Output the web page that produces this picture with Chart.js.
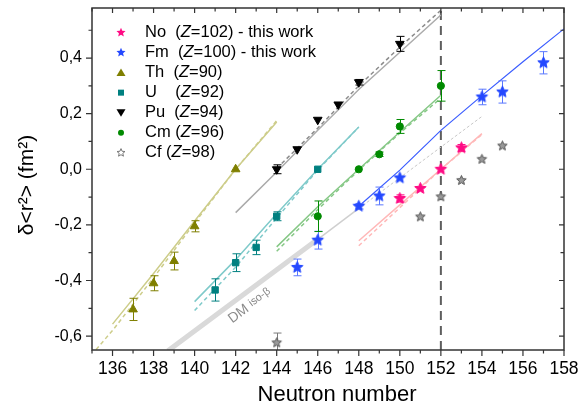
<!DOCTYPE html>
<html><head><meta charset="utf-8">
<script src="https://cdn.jsdelivr.net/npm/chart.js@4/dist/chart.umd.min.js"></script>
<style>html,body{margin:0;padding:0;background:#fff}#wrap{width:580px;height:406px;position:relative}</style>
</head><body><div id="wrap"><canvas id="c" width="580" height="406"></canvas></div>
<script>
// ---------- data ----------
const xTicks = [136,138,140,142,144,146,148,150,152,154,156,158];
const yTicks = [-0.6,-0.4,-0.2,0.0,0.2,0.4];
const xTitle = 'Neutron number';
const yTitle = 'δ<r²> (fm²)';

// measured isotope shifts
const noN = [150,151,152,153];
const noV = [-0.105,-0.069,0.0,0.077];
const noE = [0.013,0,0,0.012];
const fmN = [145,146,148,149,150,154,155,157];
const fmV = [-0.353,-0.255,-0.133,-0.096,-0.031,0.260,0.278,0.383];
const fmE = [0.030,0.032,0.010,0.032,0,0.028,0.040,0.040];
const thN = [137,138,139,140,142];
const thV = [-0.504,-0.410,-0.330,-0.205,0.0];
const thE = [0.040,0.027,0.032,0.020,0];
const uN = [141,142,143,144,146];
const uV = [-0.434,-0.336,-0.281,-0.169,0.0];
const uE = [0.040,0.032,0.026,0.016,0];
const puN = [144,145,146,147,148,150];
const puV = [0.0,0.072,0.178,0.233,0.313,0.451];
const puE = [0.016,0,0,0,0.010,0.027];
const cmN = [146,148,149,150,152];
const cmV = [-0.169,0.0,0.054,0.154,0.300];
const cmE = [0.055,0,0.008,0.025,0.055];
const cfN = [144,151,152,153,154,155];
const cfV = [-0.624,-0.171,-0.099,-0.040,0.036,0.084];
const cfE = [0.035,0,0,0,0,0];

// model curves
const thSolN = [136,138,140,142,144];          const thSolV = [-0.557,-0.375,-0.186,0.0,0.170];
const thDashN = [135.2,136,138,140,142,144];   const thDashV = [-0.648,-0.580,-0.390,-0.193,0.0,0.175];
const uSolN = [140,142,144,146,148];           const uSolV = [-0.476,-0.325,-0.160,0.0,0.152];
const uDashN = [140,142,144,146,148];          const uDashV = [-0.508,-0.352,-0.175,-0.003,0.152];
const puSolN = [142,144,146,148,150,152];      const puSolV = [-0.156,-0.010,0.140,0.287,0.421,0.555];
const puDashN = [144,146,148,150,152];         const puDashV = [0.003,0.148,0.300,0.439,0.572];
const cmSolN = [144,146,148,150,152];          const cmSolV = [-0.279,-0.135,0.0,0.134,0.266];
const cmDashN = [144,146,148,150,152];         const cmDashV = [-0.295,-0.145,-0.003,0.130,0.256];
const fmLineN = [148,150,152,154,156,158];     const fmLineV = [-0.133,-0.003,0.140,0.265,0.387,0.505];
const noSolN = [148,150,152,154];              const noSolV = [-0.257,-0.128,0.0,0.128];
const noDashN = [148,150,152,154];             const noDashV = [-0.275,-0.138,0.0,0.125];
const dmThickN = [138.7,146.0];                const dmThickV = [-0.653,-0.252];
const dmThinN = [146.0,148.0];                 const dmThinV = [-0.252,-0.141];
const dmDotN = [148.0,154.0];                  const dmDotV = [-0.141,0.190];
const n152N = [152,152];                       const n152V = [-0.65,0.58];

// ---------- helpers ----------
const FONT = "'Liberation Sans', Arial, sans-serif";
function starPath(ctx, x, y, R){
  const r = R*0.45;
  ctx.beginPath();
  for(let i=0;i<10;i++){
    const a = -Math.PI/2 + i*Math.PI/5;
    const rr = (i%2===0)?R:r;
    const px = x + rr*Math.cos(a), py = y + rr*Math.sin(a);
    if(i===0) ctx.moveTo(px,py); else ctx.lineTo(px,py);
  }
  ctx.closePath();
}
function starImage(R, fill, stroke){
  const c = document.createElement('canvas');
  const s = Math.ceil(2*R+3); c.width = s; c.height = s;
  const ctx = c.getContext('2d');
  starPath(ctx, s/2, s/2, R);
  ctx.fillStyle = fill; ctx.fill();
  ctx.lineWidth = 1; ctx.strokeStyle = stroke; ctx.stroke();
  return c;
}
const xy = (N,V)=>N.map((n,i)=>({x:n,y:V[i]}));
function line(N,V,color,width,dash){
  return {data:xy(N,V), showLine:true, borderColor:color, borderWidth:width, borderDash:dash||[],
          pointRadius:0, pointHoverRadius:0, fill:false, order:3};
}
function pts(label,N,V,E,style,color,radius,rotation,errColor){
  return {label, data:xy(N,V), showLine:false, pointStyle:style, pointRadius:radius, pointHoverRadius:radius,
          pointRotation:rotation||0, backgroundColor:color, borderColor:color, borderWidth:1,
          err:E, errColor:errColor||color, order:1};
}

const colNo='#ff0a84', colFm='#2448ff', colTh='#7f7f00', colU='#008080', colPu='#000000', colCm='#008a00', colCf='#6e6e6e';
const starNo = starImage(6, colNo, colNo);
const starFm = starImage(6, colFm, colFm);
const starCf = starImage(5, '#9a9a9a', '#555555');

const datasets = [
  line(dmThickN, dmThickV, '#d9d9d9', 5),
  line(dmThinN, dmThinV, '#cfcfcf', 1.5),
  line(dmDotN, dmDotV, '#c8c8c8', 1, [3,2]),
  line(thDashN, thDashV, '#cdcd8a', 1.5, [4,3]),
  line(thSolN, thSolV, '#cdcd8a', 1.5),
  line(uDashN, uDashV, '#7fcaca', 1.5, [4,3]),
  line(uSolN, uSolV, '#7fcaca', 1.5),
  line(puDashN, puDashV, '#8c8c8c', 1.5, [4,3]),
  line(puSolN, puSolV, '#ababab', 1.5),
  line(cmDashN, cmDashV, '#86c886', 1.5, [4,3]),
  line(cmSolN, cmSolV, '#86c886', 1.5),
  line(noDashN, noDashV, '#ffb8b8', 1.5, [4,3]),
  line(noSolN, noSolV, '#ffb8b8', 1.5),
  line(fmLineN, fmLineV, '#3a5cff', 1.2),
  line(n152N, n152V, '#5e5e5e', 2, [9,6]),
  pts('Th (Z=90)', thN, thV, thE, 'triangle', colTh, 5),
  pts('U (Z=92)', uN, uV, uE, 'rect', colU, 4.5),
  pts('Pu (Z=94)', puN, puV, puE, 'triangle', colPu, 5, 180),
  pts('Cm (Z=96)', cmN, cmV, cmE, 'circle', colCm, 3.6),
  pts('Cf (Z=98)', cfN, cfV, cfE, starCf, colCf, 5, 0, '#7a7a7a'),
  pts('Fm (Z=100) - this work', fmN, fmV, fmE, starFm, colFm, 6, 0, '#5a78ff'),
  pts('No (Z=102) - this work', noN, noV, noE, starNo, colNo, 6)
];

const custom = {
  id:'custom',
  beforeDatasetDraw(chart, args){
    const ds = chart.data.datasets[args.index];
    if(!ds.err) return;
    const {ctx, chartArea:a, scales:{x,y}} = chart;
    ctx.save();
    ctx.beginPath(); ctx.rect(a.left, a.top, a.right-a.left, a.bottom-a.top); ctx.clip();
    ctx.strokeStyle = ds.errColor; ctx.lineWidth = 1;
    ds.data.forEach((p,i)=>{
      const e = ds.err[i]; if(!e) return;
      const px = Math.round(x.getPixelForValue(p.x))+0.5;
      const y1 = y.getPixelForValue(p.y+e), y2 = y.getPixelForValue(p.y-e);
      ctx.beginPath();
      ctx.moveTo(px,y1); ctx.lineTo(px,y2);
      ctx.moveTo(px-4,y1); ctx.lineTo(px+4,y1);
      ctx.moveTo(px-4,y2); ctx.lineTo(px+4,y2);
      ctx.stroke();
    });
    ctx.restore();
  },
  afterDraw(chart){
    const {ctx, chartArea:a, scales:{x,y}} = chart;
    ctx.save();
    // frame
    ctx.strokeStyle = '#333'; ctx.lineWidth = 1.5;
    ctx.strokeRect(a.left, a.top, a.right-a.left, a.bottom-a.top);
    ctx.lineWidth = 1.2;
    ctx.beginPath();
    for(let n=135;n<=158;n++){
      const px = x.getPixelForValue(n);
      const major = (n%2===0);
      ctx.moveTo(px, a.bottom); ctx.lineTo(px, a.bottom + (major?6:3.5));
      ctx.moveTo(px, a.top); ctx.lineTo(px, a.top + (major?5:3.5));
    }
    for(let k=-6;k<=5;k++){
      const py = y.getPixelForValue(k/10);
      const major = (k%2===0);
      ctx.moveTo(a.left, py); ctx.lineTo(a.left - (major?6:3.5), py);
      ctx.moveTo(a.right, py); ctx.lineTo(a.right - (major?5:3.5), py);
    }
    ctx.stroke();
    ctx.restore();

    // axis titles
    ctx.save();
    ctx.fillStyle = '#000'; ctx.textAlign = 'center'; ctx.textBaseline = 'middle';
    ctx.font = "22px " + FONT;
    ctx.fillText(xTitle, 337, 395);
    ctx.translate(27, 185); ctx.rotate(-Math.PI/2);
    ctx.font = "21px " + FONT;
    ctx.fillText(yTitle, 0, 0);
    ctx.restore();

    // DM iso-beta label
    ctx.save();
    const lx = x.getPixelForValue(142.7), ly = y.getPixelForValue(-0.49);
    ctx.translate(lx, ly); ctx.rotate(-36.7*Math.PI/180);
    ctx.fillStyle = '#8a8a8a'; ctx.textBaseline = 'middle';
    ctx.font = "14px " + FONT;
    const w1 = ctx.measureText('DM ').width;
    const w2 = ctx.measureText('iso-β').width;
    ctx.fillText('DM', -(w1+w2*0.8)/2, 0);
    ctx.font = "11px " + FONT;
    ctx.fillText('iso-β', -(w1+w2*0.8)/2 + w1, -1);
    ctx.restore();

    // legend
    ctx.save();
    const rows = [
      {m:'starNo', name:'No  ', z:'102', tail:') - this work'},
      {m:'starFm', name:'Fm  ', z:'100', tail:') - this work'},
      {m:'tri', name:'Th  ', z:'90', tail:')'},
      {m:'sq', name:'U    ', z:'92', tail:')'},
      {m:'dtri', name:'Pu  ', z:'94', tail:')'},
      {m:'circ', name:'Cm ', z:'96', tail:')'},
      {m:'starCf', name:'Cf ', z:'98', tail:')'}
    ];
    ctx.textBaseline = 'middle';
    rows.forEach((r,i)=>{
      const cy = 32.5 + i*20.05, mx = 121;
      if(r.m==='starNo'){ starPath(ctx,mx,cy,4.8); ctx.fillStyle=colNo; ctx.fill(); }
      else if(r.m==='starFm'){ starPath(ctx,mx,cy,4.8); ctx.fillStyle=colFm; ctx.fill(); }
      else if(r.m==='starCf'){ starPath(ctx,mx,cy,4.2); ctx.strokeStyle='#777'; ctx.lineWidth=1; ctx.stroke(); }
      else if(r.m==='tri'){ ctx.beginPath(); ctx.moveTo(mx,cy-4); ctx.lineTo(mx+4.5,cy+3.5); ctx.lineTo(mx-4.5,cy+3.5); ctx.closePath(); ctx.fillStyle=colTh; ctx.fill(); }
      else if(r.m==='dtri'){ ctx.beginPath(); ctx.moveTo(mx,cy+4); ctx.lineTo(mx+4.5,cy-3.5); ctx.lineTo(mx-4.5,cy-3.5); ctx.closePath(); ctx.fillStyle=colPu; ctx.fill(); }
      else if(r.m==='sq'){ ctx.fillStyle=colU; ctx.fillRect(mx-3,cy-3,6,6); }
      else if(r.m==='circ'){ ctx.beginPath(); ctx.arc(mx,cy,3,0,2*Math.PI); ctx.fillStyle=colCm; ctx.fill(); }
      let tx = 145;
      ctx.fillStyle = '#000';
      ctx.font = "16.5px " + FONT;
      const p1 = r.name + '(';
      ctx.fillText(p1, tx, cy); tx += ctx.measureText(p1).width;
      ctx.font = "italic 16.5px " + FONT;
      ctx.fillText('Z', tx, cy); tx += ctx.measureText('Z').width;
      ctx.font = "16.5px " + FONT;
      ctx.fillText('=' + r.z + r.tail, tx, cy);
    });
    ctx.restore();
  }
};

new Chart(document.getElementById('c'), {
  type:'scatter',
  data:{datasets},
  options:{
    responsive:false, animation:false, devicePixelRatio:1,
    layout:{padding:{top:8, right:16, left:0, bottom:0}},
    plugins:{legend:{display:false}, tooltip:{enabled:false}},
    scales:{
      x:{type:'linear', min:135, max:158, position:'bottom',
         grid:{display:false, drawTicks:false}, border:{display:false},
         afterBuildTicks:(s)=>{ s.ticks = xTicks.map(v=>({value:v})); },
         ticks:{color:'#000', padding:9, autoSkip:false, maxRotation:0, font:{family:FONT, size:17.5},
                callback:(v)=>String(v)},
         title:{display:false, text:xTitle},
         afterFit:(s)=>{ s.height = 56; s.paddingLeft = 0; s.paddingRight = 0; }},
      y:{type:'linear', min:-0.65, max:0.58, position:'left',
         grid:{display:false, drawTicks:false}, border:{display:false},
         afterBuildTicks:(s)=>{ s.ticks = yTicks.map(v=>({value:v})); },
         ticks:{color:'#000', padding:10, autoSkip:false, font:{family:FONT, size:16},
                callback:(v)=>v.toFixed(1).replace('.',',')},
         title:{display:false, text:yTitle},
         afterFit:(s)=>{ s.width = 92; s.paddingTop = 0; s.paddingBottom = 0; }}
    }
  },
  plugins:[custom]
});
</script>
</body></html>
